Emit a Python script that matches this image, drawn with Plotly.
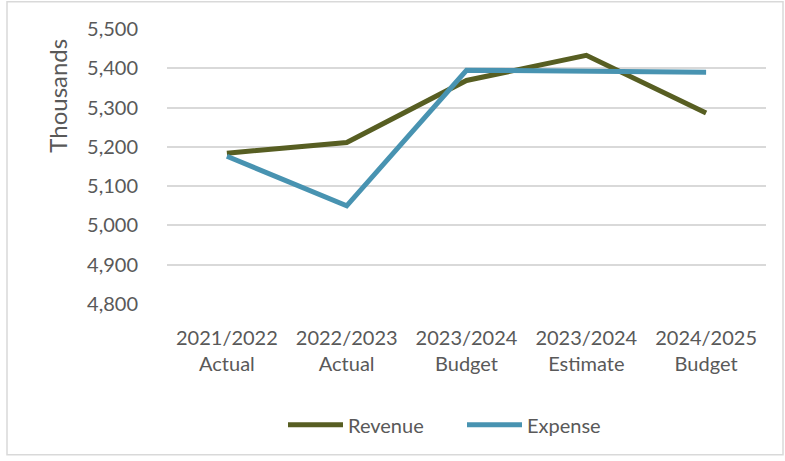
import plotly.graph_objects as go

categories = ["2021/2022<br>Actual", "2022/2023<br>Actual", "2023/2024<br>Budget",
              "2023/2024<br>Estimate", "2024/2025<br>Budget"]
revenue = [5184, 5211, 5369, 5433, 5286]
expense = [5176, 5050, 5395, 5394, 5390]
y_ticks = [4800, 4900, 5000, 5100, 5200, 5300, 5400, 5500]
series_names = ["Revenue", "Expense"]
series_colors = ["#575E22", "#4893B1"]

FONT = "Lato"
TXT = "#595959"

# pixel -> paper helpers (plot area: x 167..766, y 29.3..304.3)
def px(x):
    return (x - 167) / 599

def py(y):
    return (304.3 - y) / 275

fig = go.Figure()
for name, vals, col in zip(series_names, [revenue, expense], series_colors):
    fig.add_trace(go.Scatter(x=categories, y=vals, name=name, mode="lines",
                             line=dict(color=col, width=5), showlegend=False))

# custom legend (sample line + label)
legend_x = [288, 467]
shapes = [dict(type="rect", xref="paper", yref="paper",
               x0=px(7), x1=px(783), y0=py(455), y1=py(2),
               line=dict(color="#D9D9D9", width=1.5), layer="below")]
annotations = [dict(text="Thousands", xref="paper", yref="paper",
                    x=px(58), y=py(96), textangle=-90,
                    showarrow=False, xanchor="center", yanchor="middle",
                    font=dict(family=FONT, size=24, color=TXT))]
for name, col, lx in zip(series_names, series_colors, legend_x):
    shapes.append(dict(type="line", xref="paper", yref="paper",
                       x0=px(lx), x1=px(lx + 55), y0=py(425), y1=py(425),
                       line=dict(color=col, width=5)))
    annotations.append(dict(text=name, xref="paper", yref="paper",
                            x=px(lx + 58), y=py(425), showarrow=False,
                            xanchor="left", yanchor="middle",
                            font=dict(family=FONT, size=20, color=TXT)))

fig.update_layout(
    width=785, height=461,
    margin=dict(l=167, r=19, t=29, b=157, autoexpand=False),
    paper_bgcolor="white", plot_bgcolor="white",
    font=dict(family=FONT, size=20, color=TXT),
    showlegend=False,
    xaxis=dict(showgrid=False, showline=False, zeroline=False,
               range=[-0.5, 4.5],
               tickfont=dict(family=FONT, size=20, color=TXT),
               ticklabelstandoff=20, fixedrange=True),
    yaxis=dict(range=[4800, 5500], tickvals=y_ticks,
               ticktext=[f"{v:,}" for v in y_ticks],
               showgrid=True, gridcolor="#D9D9D9", gridwidth=1.5,
               zeroline=False, showline=False,
               tickfont=dict(family=FONT, size=20, color=TXT),
               ticklabelstandoff=28),
    annotations=annotations,
    shapes=shapes,
)

fig.write_html("out.html")
